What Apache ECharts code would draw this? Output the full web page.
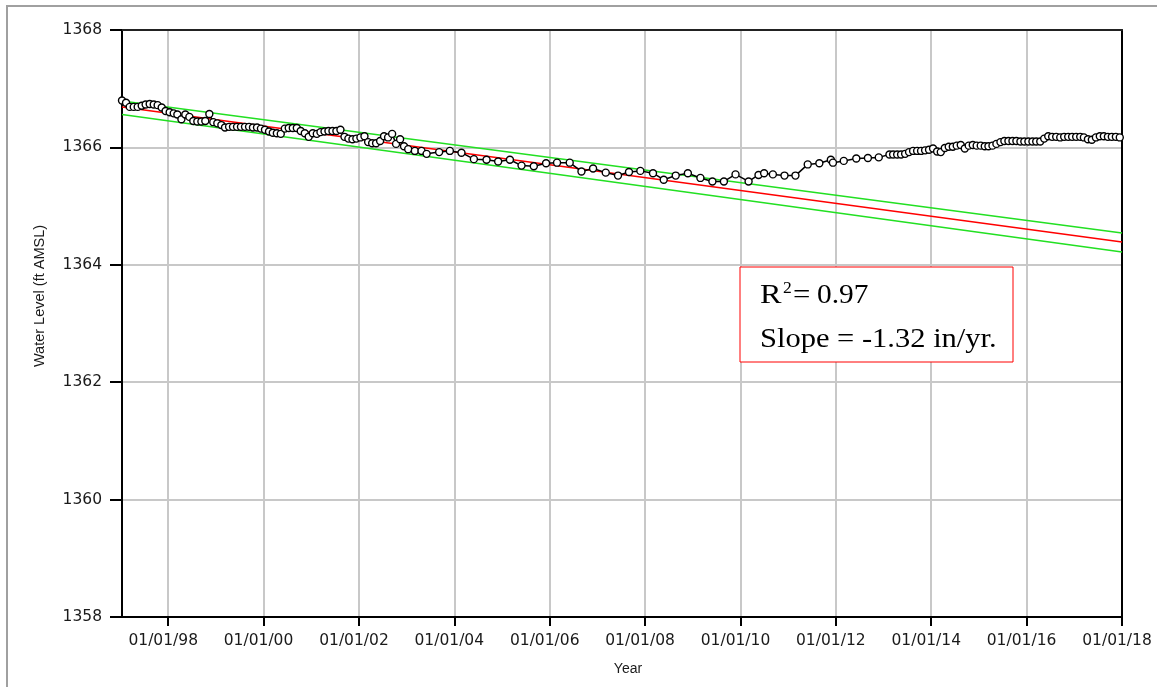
<!DOCTYPE html>
<html><head><meta charset="utf-8">
<script src="https://cdn.jsdelivr.net/npm/echarts@6/dist/echarts.min.js"></script>
<style>html,body{margin:0;padding:0;background:#fff}#c{width:1157px;height:687px}</style>
</head><body><div id="c"></div>
<script>
// ---- data ----
const earlyDates = [
'1997-01-12','1997-02-12','1997-03-12','1997-04-12','1997-05-12','1997-06-12','1997-07-12','1997-08-12','1997-09-12','1997-10-12','1997-11-12','1997-12-12',
'1998-01-12','1998-02-12','1998-03-12','1998-04-12','1998-05-12','1998-06-12','1998-07-12','1998-08-12','1998-09-12','1998-10-12','1998-11-12','1998-12-12',
'1999-01-12','1999-02-12','1999-03-12','1999-04-12','1999-05-12','1999-06-12','1999-07-12','1999-08-12','1999-09-12','1999-10-12','1999-11-12','1999-12-12',
'2000-01-12','2000-02-12','2000-03-12','2000-04-12','2000-05-12','2000-06-12','2000-07-12','2000-08-12','2000-09-12','2000-10-12','2000-11-12','2000-12-12',
'2001-01-12','2001-02-12','2001-03-12','2001-04-12','2001-05-12','2001-06-12','2001-07-12','2001-08-12','2001-09-12','2001-10-12','2001-11-12','2001-12-12',
'2002-01-12','2002-02-12','2002-03-12','2002-04-12','2002-05-12','2002-06-12','2002-07-12','2002-08-12','2002-09-12','2002-10-12','2002-11-12','2002-12-12'
];
const earlyLevels = [
1366.80,1366.76,1366.69,1366.69,1366.69,1366.71,1366.73,1366.74,1366.73,1366.72,1366.68,1366.62,
1366.60,1366.58,1366.56,1366.48,1366.56,1366.52,1366.45,1366.44,1366.44,1366.45,1366.57,1366.43,
1366.41,1366.38,1366.34,1366.35,1366.35,1366.35,1366.35,1366.35,1366.35,1366.34,1366.34,1366.32,
1366.30,1366.27,1366.25,1366.24,1366.23,1366.32,1366.33,1366.33,1366.33,1366.28,1366.24,1366.18,
1366.24,1366.23,1366.26,1366.27,1366.28,1366.28,1366.28,1366.30,1366.18,1366.15,1366.14,1366.15,
1366.17,1366.19,1366.09,1366.07,1366.07,1366.11,1366.19,1366.17,1366.23,1366.06,1366.14,1366.02
];
const midDates = [
'2003-01-13','2003-03-05','2003-04-25','2003-06-03','2003-09-07','2003-11-28',
'2004-02-25','2004-05-30','2004-09-04','2004-12-02','2005-03-02','2005-05-30','2005-09-01','2005-12-04',
'2006-02-26','2006-06-03','2006-09-01','2006-11-29','2007-03-06','2007-06-08','2007-08-31','2007-11-26',
'2008-03-02','2008-05-23','2008-08-23','2008-11-24','2009-02-28','2009-05-31','2009-08-27','2009-11-24',
'2010-03-04','2010-05-19','2010-07-01','2010-09-06','2010-12-04','2011-02-26','2011-05-31','2011-08-28',
'2011-11-24','2011-12-10','2012-03-02','2012-06-06','2012-09-03','2012-11-25','2013-02-15'
];
const midLevels = [
1365.97,1365.94,1365.94,1365.89,1365.92,1365.94,
1365.91,1365.80,1365.79,1365.76,1365.79,1365.69,1365.68,1365.73,
1365.74,1365.74,1365.59,1365.64,1365.57,1365.52,1365.58,1365.60,
1365.56,1365.45,1365.52,1365.56,1365.48,1365.42,1365.42,1365.54,
1365.42,1365.53,1365.56,1365.54,1365.52,1365.52,1365.71,1365.73,
1365.79,1365.74,1365.77,1365.81,1365.82,1365.83,1365.88
];
const lateDates = [
'2013-03-15','2013-04-15','2013-05-15','2013-06-15','2013-07-15','2013-08-15','2013-09-15','2013-10-15','2013-11-15','2013-12-15',
'2014-01-15','2014-02-15','2014-03-15','2014-04-15','2014-05-15','2014-06-15','2014-07-15','2014-08-15','2014-09-15','2014-10-15','2014-11-15','2014-12-15',
'2015-01-15','2015-02-15','2015-03-15','2015-04-15','2015-05-15','2015-06-15','2015-07-15','2015-08-15','2015-09-15','2015-10-15','2015-11-15','2015-12-15',
'2016-01-15','2016-02-15','2016-03-15','2016-04-15','2016-05-15','2016-06-15','2016-07-15','2016-08-15','2016-09-15','2016-10-15','2016-11-15','2016-12-15',
'2017-01-15','2017-02-15','2017-03-15','2017-04-15','2017-05-15','2017-06-15','2017-07-15','2017-08-15','2017-09-15','2017-10-15','2017-11-15','2017-12-15'
];
const lateLevels = [
1365.88,1365.88,1365.88,1365.89,1365.92,1365.94,1365.94,1365.94,1365.95,1365.96,
1365.98,1365.93,1365.92,1365.99,1366.01,1366.01,1366.03,1366.04,1365.98,1366.03,1366.04,1366.03,
1366.03,1366.02,1366.02,1366.03,1366.06,1366.09,1366.11,1366.11,1366.11,1366.11,1366.10,1366.10,
1366.10,1366.10,1366.10,1366.10,1366.15,1366.19,1366.18,1366.18,1366.17,1366.18,1366.18,1366.18,
1366.18,1366.18,1366.17,1366.14,1366.13,1366.17,1366.19,1366.19,1366.18,1366.18,1366.18,1366.17
];
const trendDates = ['1997-01-12','2018-01-01'];
const trendFit   = [1366.69, 1364.39];
const upperBand  = [1366.79, 1364.54];
const lowerBand  = [1366.56, 1364.22];
const xTickDates = ['1998-01-01','2000-01-01','2002-01-01','2004-01-01','2006-01-01','2008-01-01','2010-01-01','2012-01-01','2014-01-01','2016-01-01','2018-01-01'];
const yMin = 1358, yMax = 1368, yStep = 2;
const xStart = '1997-01-12', xEnd = '2018-01-01';
const yTitle = 'Water Level (ft AMSL)', xTitle = 'Year';

// ---- build ----
function toTs(s){const p=s.split('-').map(Number);return new Date(p[0],p[1]-1,p[2]).getTime();}
function pairs(d,v){return d.map((s,i)=>[toTs(s),v[i]]);}
const observed = pairs(earlyDates,earlyLevels).concat(pairs(midDates,midLevels),pairs(lateDates,lateLevels));
function pad(n){return (n<10?'0':'')+n;}
function fmt(v){const d=new Date(v);return pad(d.getMonth()+1)+'/'+pad(d.getDate())+'/'+String(d.getFullYear()).slice(2);}
const xTicks = xTickDates.map(toTs);

const chart = echarts.init(document.getElementById('c'), null, {renderer:'canvas'});
const lbl = {fontFamily:'DejaVu Sans', fontSize:15.5, color:'#1a1a1a'};
const option = {
  animation:false,
  backgroundColor:'#fff',
  grid:{left:122, top:30, right:35, bottom:70, containLabel:false},
  xAxis:[{
    type:'value', min:toTs(xStart), max:toTs(xEnd), scale:true,
    name:xTitle, nameLocation:'middle', nameGap:45,
    nameTextStyle:{fontFamily:'Liberation Sans', fontSize:14, color:'#1a1a1a', padding:[0,0,0,12]},
    axisLine:{show:true, onZero:false, lineStyle:{color:'#000', width:2}},
    axisTick:{show:true, inside:false, length:9, customValues:xTicks, lineStyle:{color:'#000', width:2}},
    axisLabel:Object.assign({margin:16, customValues:xTicks, formatter:fmt, hideOverlap:false, padding:[0,10,0,0]}, lbl),
    splitLine:{show:true, lineStyle:{color:'#c8c8c8', width:2}}
  },{
    type:'value', position:'top', min:toTs(xStart), max:toTs(xEnd), scale:true,
    axisLine:{show:true, onZero:false, lineStyle:{color:'#222', width:2}},
    axisTick:{show:false}, axisLabel:{show:false}, splitLine:{show:false}
  }],
  yAxis:[{
    type:'value', min:yMin, max:yMax, interval:yStep,
    axisLine:{show:true, onZero:false, lineStyle:{color:'#000', width:2}},
    axisTick:{show:true, inside:false, length:12, lineStyle:{color:'#000', width:2}},
    axisLabel:Object.assign({margin:20, formatter:(v)=>String(v)}, lbl),
    splitLine:{show:true, showMinLine:false, showMaxLine:false, lineStyle:{color:'#c8c8c8', width:2}}
  },{
    type:'value', position:'right', min:yMin, max:yMax, interval:yStep,
    axisLine:{show:true, onZero:false, lineStyle:{color:'#000', width:2}},
    axisTick:{show:false}, axisLabel:{show:false}, splitLine:{show:false}
  }],
  series:[
    {type:'line', data:pairs(trendDates,upperBand), symbol:'none', lineStyle:{color:'#22e022', width:1.5}, silent:true, z:2},
    {type:'line', data:pairs(trendDates,lowerBand), symbol:'none', lineStyle:{color:'#22e022', width:1.5}, silent:true, z:2},
    {type:'line', data:pairs(trendDates,trendFit), symbol:'none', lineStyle:{color:'#ff0000', width:1.5}, silent:true, z:3},
    {type:'line', data:observed, symbol:'circle', symbolSize:7, showAllSymbol:true,
     lineStyle:{color:'#000', width:1.5}, itemStyle:{color:'#fff', borderColor:'#000', borderWidth:1.4}, z:5}
  ],
  graphic:[
    {type:'rect', shape:{x:7,y:6,width:1170,height:720}, style:{fill:'none', stroke:'#a0a0a0', lineWidth:2}, z:-1, silent:true},
    {type:'text', x:40, y:296, rotation:Math.PI/2, style:{text:yTitle, font:'14.5px "Liberation Sans"', fill:'#1a1a1a', align:'center', verticalAlign:'middle'}, z:10},
    {type:'rect', shape:{x:740,y:267,width:273,height:95}, style:{fill:'#fff', stroke:'#ff0000', lineWidth:1}, z:100, silent:true},
    {type:'text', x:760, y:296, scaleX:1.15, style:{text:'R', font:'28px "Liberation Serif"', fill:'#000', verticalAlign:'middle', align:'left'}, z:101},
    {type:'text', x:783, y:289, scaleX:1.1, style:{text:'2', font:'16px "Liberation Serif"', fill:'#000', verticalAlign:'middle', align:'left'}, z:101},
    {type:'text', x:793, y:296, scaleX:1.1, style:{text:'=', font:'28px "Liberation Serif"', fill:'#000', verticalAlign:'middle', align:'left'}, z:101},
    {type:'text', x:817, y:296, scaleX:1.05, style:{text:'0.97', font:'28px "Liberation Serif"', fill:'#000', verticalAlign:'middle', align:'left'}, z:101},
    {type:'text', x:760, y:340, scaleX:1.13, style:{text:'Slope = -1.32 in/yr.', font:'27px "Liberation Serif"', fill:'#000', verticalAlign:'middle', align:'left'}, z:101}
  ]
};
chart.setOption(option);
</script>
</body></html>
